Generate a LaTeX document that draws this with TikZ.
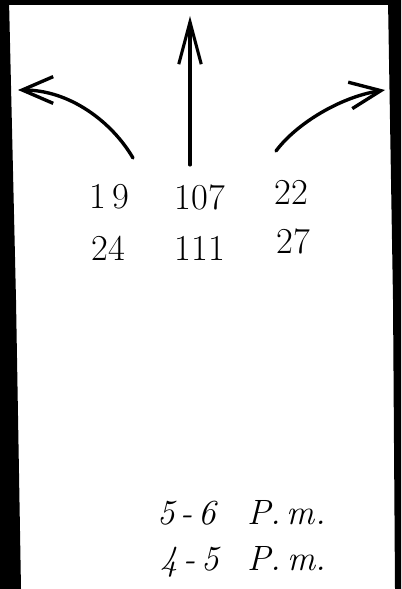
\documentclass[tikz,border=0pt]{standalone}
\usetikzlibrary{arrows.meta}
\begin{document}
\begin{tikzpicture}[x=0.025cm,y=-0.025cm]
		% Styles (MODIFIABLES)
		\tikzstyle{fleche}=[-{Straight Barb[length=22pt,width=19pt]},line width=2.4pt,line cap=round]
		\tikzstyle{flechehaut}=[-{Straight Barb[length=30pt,width=16pt]},line width=2.2pt,line cap=round]
		\tikzstyle{comptage}=[font=\fontsize{26}{30}\selectfont,inner sep=0pt]
		\tikzstyle{horaire}=[font=\fontsize{25}{30}\selectfont\itshape,inner sep=0pt,anchor=west]
		\tikzstyle{bord}=[fill=black]
		% Dimensions (MODIFIABLES)
		\def\LigneA{197}
		\def\LigneB{248}
		\def\ColonneGauche{108}
		\def\ColonneCentre{200}
		\def\ColonneDroite{291}
		% Cadre
		\useasboundingbox (0,0) rectangle (401,589);
		\fill[bord] (0,0) -- (401,0) -- (401,5) -- (0,5) -- cycle;
		\fill[bord] (0,0) -- (9,0) -- (16,300) -- (21,589) -- (0,589) -- cycle;
		\fill[bord] (388,0) -- (401,0) -- (401,589) -- (395,589) -- (393,300) -- cycle;
		% Noeuds
		\node[comptage] (G1) at ({\ColonneGauche+1},{\LigneA}) {1\,9};
		\node[comptage] (C1) at ({\ColonneCentre},{\LigneA}) {107};
		\node[comptage] (D1) at ({\ColonneDroite},{\LigneA-5}) {22};
		\node[comptage] (G2) at ({\ColonneGauche},{\LigneB}) {24};
		\node[comptage] (C2) at ({\ColonneCentre},{\LigneB}) {111};
		\node[comptage] (D2) at ({\ColonneDroite+2},{\LigneB-7}) {27};
		%
		\node[horaire] (H1) at (157,513) {\makebox[64pt][l]{5\,-\,6}P.\,m.};
		\node[horaire] (H2) at (160,562) {\makebox[62pt][l]{4\,-\,5}P.\,m.};
		% Arcs (MODIFIABLES : Styles)
		\coordinate (depG) at (133,158);
		\coordinate (finG) at (18,90);
		\coordinate (depC) at (190,165);
		\coordinate (finC) at (190,16);
		\coordinate (depD) at (276,151);
		\coordinate (finD) at (385,90);
		\draw[fleche] (depG) .. controls (112,122) and (70,90) .. (finG);
		\draw[flechehaut] (depC) -- (finC);
		\draw[fleche] (depD) .. controls (296,124) and (340,97) .. (finD);
	\end{tikzpicture}
\end{document}
